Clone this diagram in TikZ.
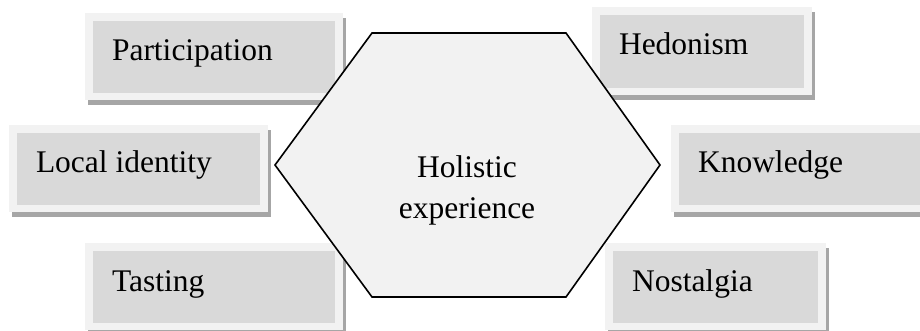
\documentclass[tikz,border=0pt]{standalone}
\usepackage{fontspec}
\setmainfont{Liberation Serif}
\definecolor{outerc}{HTML}{F2F2F2}
\definecolor{innerc}{HTML}{D9D9D9}
\definecolor{shadc}{HTML}{A6A6A6}
\definecolor{hexc}{HTML}{F2F2F2}
\newcommand{\featbox}[6]{%
  \fill[shadc] ({#2+3},{#3+5}) rectangle ({#4+3},{#5+5});
  \fill[outerc] (#2,#3) rectangle (#4,#5);
  \node[innerbox, anchor=north west, minimum width={(#4-#2-16)*1pt}, minimum height={(#5-#3-15)*1pt}] (#1) at ({#2+8},{#3+8}) {};
  \node[lbl, anchor=base west] (#1-t) at ({#2+27},{#3+48}) {#6};
}
\begin{document}
\begin{tikzpicture}[x=1pt,y=-1pt,
  innerbox/.style={fill=innerc, draw=none, inner sep=0pt, outer sep=0pt},
  lbl/.style={inner sep=0pt, outer sep=0pt, font=\fontsize{31.5}{40}\selectfont, text=black},
  hexstyle/.style={fill=hexc, draw=black, line width=1.6pt, line join=miter}]
\useasboundingbox (0,0) rectangle (920,331);
\clip (0,0) rectangle (920,331);
\featbox{part}{85}{13}{343}{100}{Participation}
\featbox{hedo}{592}{7}{812}{95}{Hedonism}
\featbox{loca}{9}{125}{268}{212}{Local identity}
\featbox{know}{671}{125}{935}{212}{Knowledge}
\featbox{tast}{85}{243}{343}{330}{Tasting}
\featbox{nost}{605}{243}{826}{330}{Nostalgia}
\coordinate (h1) at (372,33);
\coordinate (h2) at (566,33);
\coordinate (h3) at (660,165);
\coordinate (h4) at (566,297);
\coordinate (h5) at (372,297);
\coordinate (h6) at (275,165);
\draw[hexstyle] (h1) -- (h2) -- (h3) -- (h4) -- (h5) -- (h6) -- cycle;
\node[lbl, anchor=base] (hol1) at (467,178) {Holistic};
\node[lbl, anchor=base] (hol2) at (467,218) {experience};
\end{tikzpicture}
\end{document}
